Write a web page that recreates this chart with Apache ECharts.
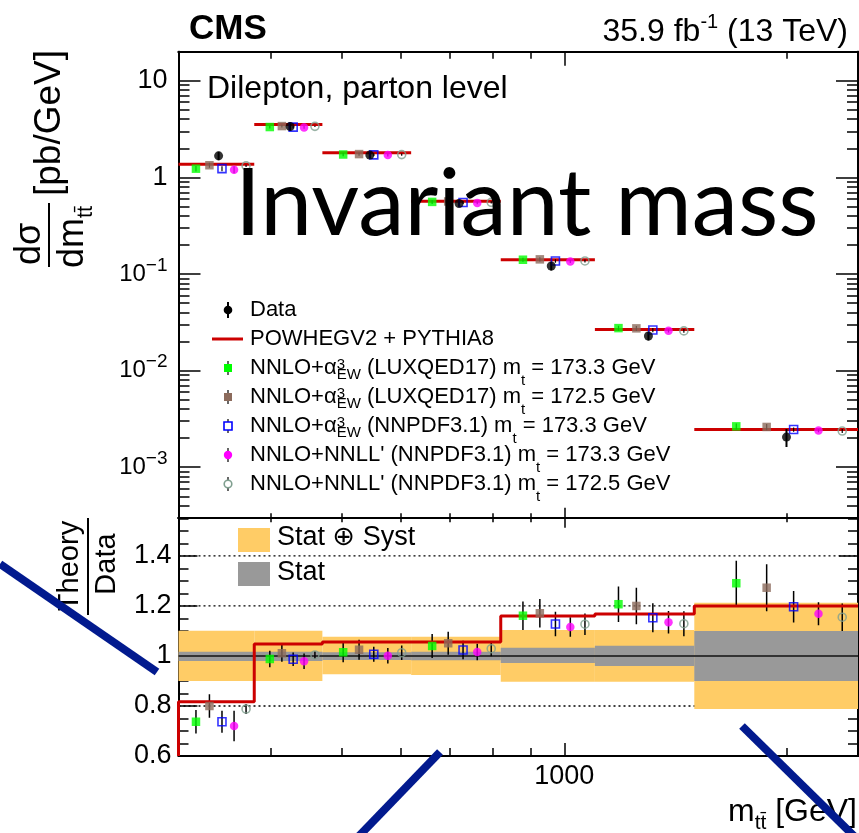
<!DOCTYPE html>
<html><head><meta charset="utf-8">
<script src="https://cdn.jsdelivr.net/npm/echarts@6/dist/echarts.min.js"></script>
<style>html,body{margin:0;padding:0;background:#fff}#c{width:859px;height:833px}</style>
</head><body><div id="c"></div>
<script>
// ---------------- data ----------------
const binEdges = [300, 380, 470, 620, 820, 1100, 1500, 2500];
const dataXsec = [1.67, 3.36, 1.70, 0.536, 0.121, 0.0228, 0.00205];
const totUp    = [0.101, 0.101, 0.077, 0.077, 0.104, 0.104, 0.213];
const totDown  = [0.100, 0.100, 0.073, 0.076, 0.103, 0.103, 0.212];
const statUp   = [0.017, 0.017, 0.015, 0.017, 0.033, 0.041, 0.100];
const statDown = [0.020, 0.020, 0.016, 0.017, 0.028, 0.040, 0.100];
const powhegRatio     = [0.817, 1.048, 1.056, 1.056, 1.160, 1.168, 1.200];
const ratioLuxqed1733 = [0.737, 0.988, 1.015, 1.040, 1.161, 1.207, 1.291];
const ratioLuxqed1725 = [0.800, 1.011, 1.025, 1.051, 1.171, 1.200, 1.273];
const ratioNnpdf1733  = [0.737, 0.987, 1.007, 1.024, 1.128, 1.153, 1.197];
const ratioNnll1733   = [0.720, 0.979, 1.001, 1.016, 1.116, 1.135, 1.169];
const ratioNnll1725   = [0.788, 1.004, 1.013, 1.029, 1.127, 1.129, 1.155];
const errLuxqed1733 = [0.047, 0.033, 0.040, 0.048, 0.057, 0.071, 0.090];
const errLuxqed1725 = [0.047, 0.034, 0.040, 0.046, 0.057, 0.073, 0.094];
const errNnpdf1733  = [0.044, 0.027, 0.030, 0.037, 0.049, 0.058, 0.063];
const errNnll1733   = [0.061, 0.031, 0.031, 0.033, 0.039, 0.045, 0.046];
const errNnll1725   = [0.020, 0.015, 0.029, 0.030, 0.043, 0.050, 0.055];
// horizontal placement of the points inside each bin (fraction of bin width)
const dataOffset = 0.5;
const theoryOffsets = [0.21, 0.38, 0.545, 0.71, 0.88];
// ticks / labels
const xMajorTicks = [1000];
const xMinorTicks = [400, 500, 600, 700, 800, 900, 2000];
const xLabelValues = [1000];
const yTopMajorTicks = [0.001, 0.01, 0.1, 1, 10];
const yTopMinorTicks = [0.0004, 0.0005, 0.0006, 0.0007, 0.0008, 0.0009,
  0.002, 0.003, 0.004, 0.005, 0.006, 0.007, 0.008, 0.009,
  0.02, 0.03, 0.04, 0.05, 0.06, 0.07, 0.08, 0.09,
  0.2, 0.3, 0.4, 0.5, 0.6, 0.7, 0.8, 0.9,
  2, 3, 4, 5, 6, 7, 8, 9];
const yBotMajorTicks = [0.6, 0.8, 1, 1.2, 1.4];
const yBotMinorTicks = [0.65, 0.7, 0.75, 0.85, 0.9, 0.95, 1.05, 1.1, 1.15, 1.25, 1.3, 1.35, 1.45, 1.5, 1.55];
const yBotDottedLines = [0.8, 1.2, 1.4];
const X_MIN = 300, X_MAX = 2500;
const Y_TOP_MIN = 3e-4, Y_TOP_MAX = 20;
const Y_BOT_MIN = 0.6, Y_BOT_MAX = 1.553;

const theoryRatios = [ratioLuxqed1733, ratioLuxqed1725, ratioNnpdf1733, ratioNnll1733, ratioNnll1725];
const theoryErrs = [errLuxqed1733, errLuxqed1725, errNnpdf1733, errNnll1733, errNnll1725];
const theoryStyle = [
  {symbol: 'rect', color: '#00ff00', filled: true},
  {symbol: 'rect', color: '#8c6b5c', filled: true},
  {symbol: 'rect', color: '#0000ff', filled: false},
  {symbol: 'circle', color: '#ff00ff', filled: true},
  {symbol: 'circle', color: '#7f9f8f', filled: false}
];

const FONT = '"Liberation Sans", "DejaVu Sans", Arial, sans-serif';
const nb = dataXsec.length;
const xAt = (i, f) => binEdges[i] + f * (binEdges[i + 1] - binEdges[i]);

// ---------------- axes ----------------
function xAx(grid, pos, ticks, len, withLabel) {
  return {
    type: 'log', logBase: 10, gridIndex: grid, position: pos, min: X_MIN, max: X_MAX,
    axisLine: {show: true, onZero: false, lineStyle: {color: '#000', width: 2}},
    axisTick: {show: true, inside: true, length: len, customValues: ticks, lineStyle: {color: '#000', width: 1.5}},
    minorTick: {show: false}, splitLine: {show: false},
    axisLabel: withLabel ? {show: true, customValues: xLabelValues, color: '#000', fontFamily: FONT, fontSize: 27, margin: 7,
      formatter: v => String(Math.round(v))} : {show: false}
  };
}
function yTop(pos, ticks, len, withLabel) {
  return {
    type: 'log', logBase: 10, gridIndex: 0, position: pos, min: Y_TOP_MIN, max: Y_TOP_MAX,
    axisLine: {show: true, onZero: false, lineStyle: {color: '#000', width: 2}},
    axisTick: {show: true, inside: true, length: len, customValues: ticks, lineStyle: {color: '#000', width: 1.5}},
    minorTick: {show: false}, splitLine: {show: false},
    axisLabel: withLabel ? {
      show: true, customValues: yTopMajorTicks, margin: 11, color: '#000',
      formatter: v => {
        const e = Math.round(Math.log10(v));
        if (e === 1) return '{m|10}';
        if (e === 0) return '{m|1}';
        return '{b|10}{s|\u2212' + (-e) + '}';
      },
      rich: {
        m: {fontFamily: FONT, fontSize: 27, lineHeight: 30, color: '#000'},
        b: {fontFamily: FONT, fontSize: 24, lineHeight: 28, color: '#000'},
        s: {fontFamily: FONT, fontSize: 19, lineHeight: 19, padding: [0, 0, 17, 0], color: '#000'}
      }
    } : {show: false}
  };
}
function yBot(pos, ticks, len, withLabel) {
  return {
    type: 'value', gridIndex: 1, position: pos, min: Y_BOT_MIN, max: Y_BOT_MAX,
    axisLine: {show: true, onZero: false, lineStyle: {color: '#000', width: 2}},
    axisTick: {show: true, inside: true, length: len, customValues: ticks, lineStyle: {color: '#000', width: 1.5}},
    minorTick: {show: false}, splitLine: {show: false},
    axisLabel: withLabel ? {show: true, customValues: yBotMajorTicks, margin: 7, color: '#000', fontFamily: FONT, fontSize: 27,
      formatter: v => (Math.abs(v - 1) < 1e-9 ? '1' : v.toFixed(1))} : {show: false}
  };
}

// ---------------- series ----------------
const series = [];
// top: POWHEG horizontal lines
series.push({
  type: 'custom', xAxisIndex: 0, yAxisIndex: 0, clip: true, silent: true,
  encode: {x: [0, 1], y: 2},
  data: dataXsec.map((d, i) => [binEdges[i], binEdges[i + 1], d * powhegRatio[i]]),
  renderItem: (p, api) => {
    const a = api.coord([api.value(0), api.value(2)]), b = api.coord([api.value(1), api.value(2)]);
    return {type: 'line', shape: {x1: a[0], y1: a[1], x2: b[0], y2: b[1]}, style: {stroke: '#cc0000', lineWidth: 3}};
  }
});
function errSeries(xi, yi, rows, w) {
  return {
    type: 'custom', xAxisIndex: xi, yAxisIndex: yi, clip: true, silent: true,
    encode: {x: 0, y: [1, 2]}, data: rows,
    renderItem: (p, api) => {
      const a = api.coord([api.value(0), api.value(1)]), b = api.coord([api.value(0), api.value(2)]);
      return {type: 'line', shape: {x1: a[0], y1: a[1], x2: b[0], y2: b[1]}, style: {stroke: '#000', lineWidth: w}};
    }
  };
}
// top theory error bars
const topTheoryErr = [];
theoryRatios.forEach((r, k) => r.forEach((v, i) => {
  const c = dataXsec[i] * v, e = dataXsec[i] * theoryErrs[k][i];
  topTheoryErr.push([xAt(i, theoryOffsets[k]), c - e, c + e]);
}));
series.push(errSeries(0, 0, topTheoryErr, 1.2));
// top data error bars
series.push(errSeries(0, 0, dataXsec.map((d, i) => [xAt(i, dataOffset), d * (1 - totDown[i]), d * (1 + totUp[i])]), 2));
function scatterFor(k, xi, yi, rows) {
  const st = theoryStyle[k];
  return {
    type: 'scatter', xAxisIndex: xi, yAxisIndex: yi, symbol: st.symbol, symbolSize: st.filled ? 8.5 : 8, silent: true,
    itemStyle: st.filled ? {color: st.color} : {color: 'rgba(0,0,0,0)', borderColor: st.color, borderWidth: 1.6},
    data: rows, z: 3
  };
}
theoryRatios.forEach((r, k) => series.push(scatterFor(k, 0, 0, r.map((v, i) => [xAt(i, theoryOffsets[k]), dataXsec[i] * v]))));
series.push({
  type: 'scatter', xAxisIndex: 0, yAxisIndex: 0, symbol: 'circle', symbolSize: 9, silent: true, z: 3,
  itemStyle: {color: '#000'}, data: dataXsec.map((d, i) => [xAt(i, dataOffset), d])
});

// bottom: dotted reference lines
function hLineSeries(rows, style) {
  return {
    type: 'custom', xAxisIndex: 4, yAxisIndex: 4, clip: true, silent: true,
    encode: {x: [0, 1], y: 2}, data: rows,
    renderItem: (p, api) => {
      const a = api.coord([api.value(0), api.value(2)]), b = api.coord([api.value(1), api.value(2)]);
      return {type: 'line', shape: {x1: a[0], y1: a[1], x2: b[0], y2: b[1]}, style: style};
    }
  };
}
series.push(hLineSeries(yBotDottedLines.map(v => [X_MIN, X_MAX, v]), {stroke: '#000', lineWidth: 1.3, lineDash: [2, 3]}));
function bandSeries(up, down, color) {
  return {
    type: 'custom', xAxisIndex: 4, yAxisIndex: 4, clip: true, silent: true,
    encode: {x: [0, 1], y: [2, 3]},
    data: up.map((u, i) => [binEdges[i], binEdges[i + 1], 1 - down[i], 1 + u]),
    renderItem: (p, api) => {
      const a = api.coord([api.value(0), api.value(3)]), b = api.coord([api.value(1), api.value(2)]);
      return {type: 'rect', shape: {x: a[0], y: a[1], width: b[0] - a[0], height: b[1] - a[1]}, style: {fill: color, stroke: null}};
    }
  };
}
series.push(bandSeries(totUp, totDown, '#ffcc66'));
series.push(bandSeries(statUp, statDown, '#999999'));
series.push(hLineSeries([[X_MIN, X_MAX, 1]], {stroke: '#333333', lineWidth: 2}));
// POWHEG ratio step
const stepData = [[binEdges[0], Y_BOT_MIN]];
powhegRatio.forEach((v, i) => stepData.push([binEdges[i], v]));
stepData.push([binEdges[nb], powhegRatio[nb - 1]]);
series.push({
  type: 'line', xAxisIndex: 4, yAxisIndex: 4, step: 'end', showSymbol: false, symbol: 'none', silent: true, clip: true,
  lineStyle: {color: '#cc0000', width: 3}, data: stepData, z: 2
});
const botErr = [];
theoryRatios.forEach((r, k) => r.forEach((v, i) => botErr.push([xAt(i, theoryOffsets[k]), v - theoryErrs[k][i], v + theoryErrs[k][i]])));
series.push(errSeries(4, 4, botErr, 1.5));
theoryRatios.forEach((r, k) => series.push(scatterFor(k, 4, 4, r.map((v, i) => [xAt(i, theoryOffsets[k]), v]))));

// ---------------- graphic (texts, legends, overlays) ----------------
const R = (o) => Object.assign({fontFamily: FONT, fill: '#000'}, o);
function txt(x, y, text, size, opt) {
  return Object.assign({type: 'text', x: x, y: y, z: 50, silent: true,
    style: Object.assign({text: text, fontFamily: FONT, fontSize: size, fill: '#000', align: 'left', verticalAlign: 'middle',
      textAlign: 'left', textVerticalAlign: 'middle'}, (opt && opt.style) || {})}, (opt && opt.el) || {});
}
const g = [];
g.push(txt(189, 29, 'CMS', 35, {style: {fontWeight: 'bold'}}));
g.push(txt(848, 32, '{a|35.9 fb}{s|-1}{a| (13 TeV)}', 32, {style: {align: 'right', textAlign: 'right',
  rich: {a: R({fontSize: 32, lineHeight: 34}), s: R({fontSize: 20, lineHeight: 20, padding: [0, 0, 19, 0]})}}}));
g.push(txt(207, 89, 'Dilepton, parton level', 32));

// top legend
const legY = [310, 339, 368, 397, 426, 455, 484];
const legX = 228, legTX = 250;
const legRich = {
  t: R({fontSize: 22, lineHeight: 26}),
  p: R({fontSize: 15, lineHeight: 15, width: 0, padding: [0, 0, 6, 0]}),
  e: R({fontSize: 15, lineHeight: 15, padding: [14, 0, 0, 0]}),
  q: R({fontSize: 15, lineHeight: 15, padding: [26, 0, 0, 0]})
};
const legTexts = [
  '{t|NNLO+\u03b1}{p|3}{e|EW}{t| (LUXQED17) m}{q|t}{t| = 173.3 GeV}',
  '{t|NNLO+\u03b1}{p|3}{e|EW}{t| (LUXQED17) m}{q|t}{t| = 172.5 GeV}',
  '{t|NNLO+\u03b1}{p|3}{e|EW}{t| (NNPDF3.1) m}{q|t}{t| = 173.3 GeV}',
  "{t|NNLO+NNLL' (NNPDF3.1) m}{q|t}{t| = 173.3 GeV}",
  "{t|NNLO+NNLL' (NNPDF3.1) m}{q|t}{t| = 172.5 GeV}"
];
g.push({type: 'line', z: 50, silent: true, shape: {x1: legX, y1: legY[0] - 8, x2: legX, y2: legY[0] + 8}, style: {stroke: '#000', lineWidth: 2}});
g.push({type: 'circle', z: 51, silent: true, shape: {cx: legX, cy: legY[0], r: 4.3}, style: {fill: '#000'}});
g.push(txt(legTX, legY[0], 'Data', 22));
g.push({type: 'line', z: 50, silent: true, shape: {x1: 212, y1: legY[1], x2: 243, y2: legY[1]}, style: {stroke: '#cc0000', lineWidth: 3}});
g.push(txt(legTX, legY[1], 'POWHEGV2 + PYTHIA8', 22));
theoryStyle.forEach((st, k) => {
  const y = legY[k + 2];
  g.push({type: 'line', z: 50, silent: true, shape: {x1: legX, y1: y - 7, x2: legX, y2: y + 7}, style: {stroke: '#000', lineWidth: 1.2}});
  const sty = st.filled ? {fill: st.color} : {fill: '#fff', stroke: st.color, lineWidth: 1.6};
  if (st.symbol === 'rect') g.push({type: 'rect', z: 51, silent: true, shape: {x: legX - 4, y: y - 4, width: 8, height: 8}, style: sty});
  else g.push({type: 'circle', z: 51, silent: true, shape: {cx: legX, cy: y, r: st.filled ? 4.2 : 3.8}, style: sty});
  g.push(txt(legTX, y, legTexts[k], 22, {style: {rich: legRich}}));
});

// ratio legend
g.push({type: 'rect', z: 50, silent: true, shape: {x: 238, y: 528, width: 32, height: 24}, style: {fill: '#ffcc66'}});
g.push(txt(277, 538, 'Stat \u2295 Syst', 27));
g.push({type: 'rect', z: 50, silent: true, shape: {x: 238, y: 562, width: 32, height: 24}, style: {fill: '#999999'}});
g.push(txt(277, 573, 'Stat', 27));

// y titles
const rot = Math.PI / 2;
function rtxt(x, y, text, size, rich) {
  return {type: 'text', x: x, y: y, rotation: rot, z: 50, silent: true,
    style: {text: text, fontFamily: FONT, fontSize: size, fill: '#000', align: 'center', verticalAlign: 'middle',
      textAlign: 'center', textVerticalAlign: 'middle', rich: rich}};
}
g.push(rtxt(50, 123, '[pb/GeV]', 37));
g.push(rtxt(30, 244, 'd\u03c3', 36));
g.push({type: 'line', z: 50, silent: true, shape: {x1: 49, y1: 203, x2: 49, y2: 267}, style: {stroke: '#000', lineWidth: 2}});
g.push(rtxt(73, 237, '{a|dm}{s|tt\u0304}', 36, {a: R({fontSize: 36, lineHeight: 36}), s: R({fontSize: 22, lineHeight: 22, padding: [26, 0, 0, 0]})}));
g.push(rtxt(70, 566, 'Theory', 29));
g.push({type: 'line', z: 50, silent: true, shape: {x1: 88, y1: 518, x2: 88, y2: 615}, style: {stroke: '#000', lineWidth: 2}});
g.push(rtxt(107, 564, 'Data', 29));

// x title
g.push(txt(857, 812, '{a|m}{s|tt\u0304}{a| [GeV]}', 32, {style: {align: 'right', textAlign: 'right',
  rich: {a: R({fontSize: 32, lineHeight: 32}), s: R({fontSize: 21, lineHeight: 21, padding: [22, 0, 0, 0]})}}}));

// overlays
g.push({type: 'text', x: 235, y: 205, z: 80, silent: true,
  style: {text: 'Invariant mass', fontFamily: 'Lato', fontSize: 93, fill: '#000', align: 'left', verticalAlign: 'middle', textAlign: 'left', textVerticalAlign: 'middle'}});
const blue = {stroke: '#021a8e', lineWidth: 8, lineCap: 'butt'};
g.push({type: 'line', z: 90, silent: true, shape: {x1: 0, y1: 564, x2: 157, y2: 672}, style: blue});
g.push({type: 'line', z: 90, silent: true, shape: {x1: 359, y1: 836, x2: 440, y2: 752}, style: blue});
g.push({type: 'line', z: 90, silent: true, shape: {x1: 742, y1: 726, x2: 856, y2: 838}, style: blue});

const option = {
  animation: false,
  backgroundColor: '#fff',
  textStyle: {fontFamily: FONT},
  grid: [
    {left: 178.5, top: 51.7, width: 679.5, height: 466, outerBoundsMode: 'none', containLabel: false},
    {left: 178.5, top: 517.7, width: 679.5, height: 238.3, outerBoundsMode: 'none', containLabel: false}
  ],
  xAxis: [
    xAx(0, 'bottom', xMajorTicks, 10, false), xAx(0, 'bottom', xMinorTicks, 4.5, false),
    xAx(0, 'top', xMajorTicks, 14, false), xAx(0, 'top', xMinorTicks, 7, false),
    xAx(1, 'bottom', xMajorTicks, 13, true), xAx(1, 'bottom', xMinorTicks, 8, false),
    xAx(1, 'top', xMajorTicks, 10, false), xAx(1, 'top', xMinorTicks, 4.5, false)
  ],
  yAxis: [
    yTop('left', yTopMajorTicks, 22, true), yTop('left', yTopMinorTicks, 11, false),
    yTop('right', yTopMajorTicks, 22, false), yTop('right', yTopMinorTicks, 11, false),
    yBot('left', yBotMajorTicks, 19, true), yBot('left', yBotMinorTicks, 10, false),
    yBot('right', yBotMajorTicks, 19, false), yBot('right', yBotMinorTicks, 10, false)
  ],
  series: series,
  graphic: {elements: g}
};
const chart = echarts.init(document.getElementById('c'), null, {renderer: 'canvas', width: 859, height: 833});
chart.setOption(option);
</script></body></html>
